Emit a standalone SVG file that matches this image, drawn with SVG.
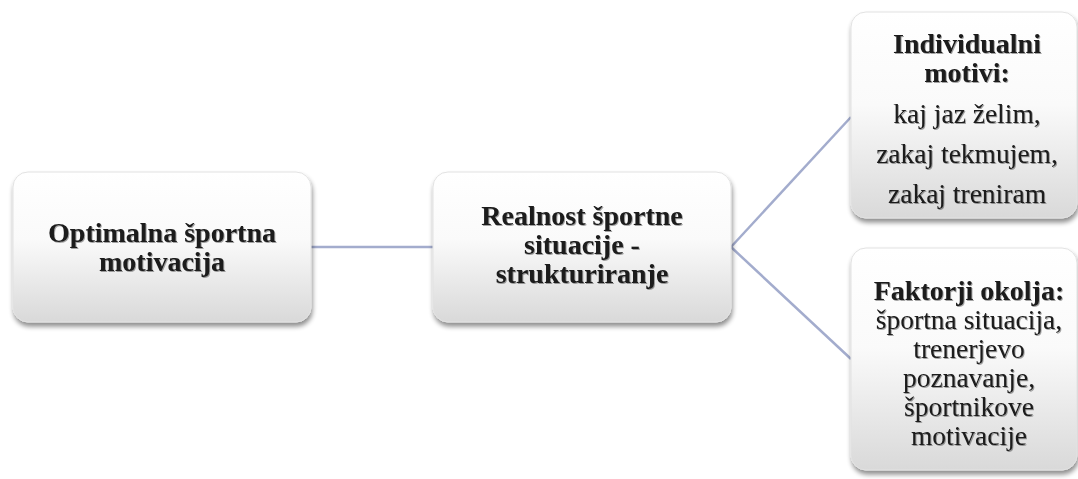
<svg xmlns="http://www.w3.org/2000/svg" width="1078" height="479" viewBox="0 0 1078 479">
<defs>
<linearGradient id="g" x1="0" y1="0" x2="0" y2="1">
<stop offset="0" stop-color="#ffffff"/>
<stop offset="0.45" stop-color="#fafafa"/>
<stop offset="1" stop-color="#d9d9d9"/>
</linearGradient>
<filter id="sh" x="-10%" y="-10%" width="120%" height="125%">
<feGaussianBlur in="SourceAlpha" stdDeviation="2.5"/>
<feOffset dx="1" dy="4"/>
<feComponentTransfer><feFuncA type="linear" slope="0.45"/></feComponentTransfer>
<feMerge><feMergeNode/><feMergeNode in="SourceGraphic"/></feMerge>
</filter>
<filter id="ts" x="-5%" y="-20%" width="110%" height="140%">
<feGaussianBlur in="SourceAlpha" stdDeviation="0.6"/>
<feOffset dx="1" dy="1"/>
<feComponentTransfer><feFuncA type="linear" slope="0.35"/></feComponentTransfer>
<feMerge><feMergeNode/><feMergeNode in="SourceGraphic"/></feMerge>
</filter>
</defs>
<style>
.box{fill:url(#g);stroke:#e2e2e2;stroke-width:1;filter:url(#sh)}
.t{font-family:"Liberation Serif","Times New Roman",serif;font-size:27.5px;fill:#1a1a1a;text-anchor:middle;filter:url(#ts)}
.b{font-weight:bold;font-size:28px}
.c{stroke:#a3accd;stroke-width:2.5;fill:none}
</style>
<rect width="1078" height="479" fill="#ffffff"/>
<g id="connectors">
<line class="c" x1="311" y1="247" x2="433" y2="247"/>
<line class="c" x1="731" y1="247" x2="851" y2="117"/>
<line class="c" x1="731" y1="247" x2="851" y2="359"/>
</g>
<g id="node1">
<rect class="box" x="13" y="172" width="298" height="150" rx="15"/>
<text class="t b" x="162" y="242">Optimalna športna</text>
<text class="t b" x="162" y="271">motivacija</text>
</g>
<g id="node2">
<rect class="box" x="433" y="172" width="298" height="150" rx="15"/>
<text class="t b" x="582" y="225">Realnost športne</text>
<text class="t b" x="582" y="254">situacije -</text>
<text class="t b" x="582" y="283">strukturiranje</text>
</g>
<g id="node3">
<rect class="box" x="851" y="12" width="226" height="206" rx="15"/>
<text class="t b" x="967" y="53">Individualni</text>
<text class="t b" x="967" y="82">motivi:</text>
<text class="t" x="967" y="123">kaj jaz želim,</text>
<text class="t" x="967" y="163">zakaj tekmujem,</text>
<text class="t" x="967" y="203">zakaj treniram</text>
</g>
<g id="node4">
<rect class="box" x="851" y="248" width="226" height="222" rx="15"/>
<text class="t b" x="969" y="300">Faktorji okolja:</text>
<text class="t" x="969" y="329">športna situacija,</text>
<text class="t" x="969" y="358">trenerjevo</text>
<text class="t" x="969" y="387">poznavanje,</text>
<text class="t" x="969" y="416">športnikove</text>
<text class="t" x="969" y="445">motivacije</text>
</g>
</svg>
